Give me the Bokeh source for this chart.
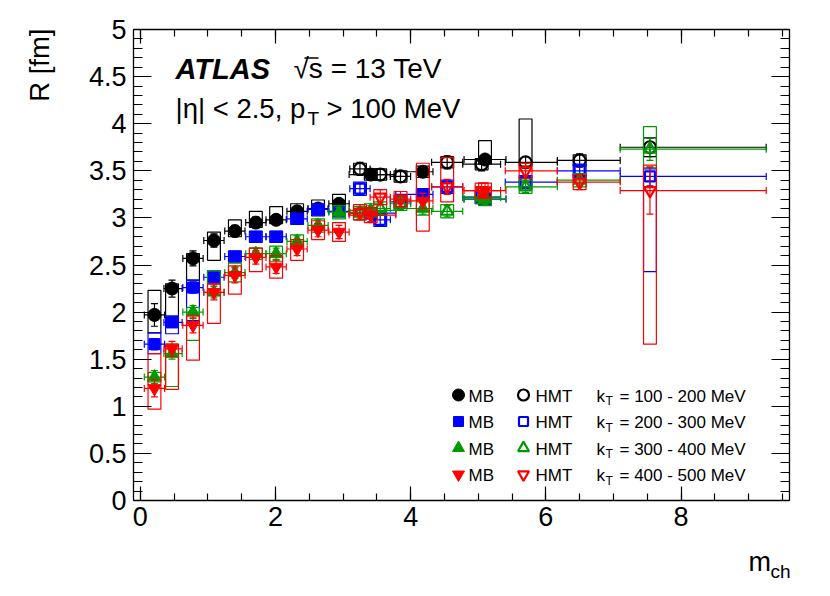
import math
from bokeh.plotting import figure
from bokeh.models import Range1d, LinearAxis, FixedTicker, Label, ColumnDataSource
from bokeh.embed import file_html
from bokeh.resources import INLINE

# ---------------- data ----------------
# MB sample (filled markers)
mch_mb = [0.21, 0.47, 0.78, 1.09, 1.40, 1.71, 2.01, 2.32, 2.63, 2.94, 3.41, 4.18, 5.10]
mch_mb_err_lo = [0.15, 0.12, 0.15, 0.15, 0.15, 0.15, 0.15, 0.15, 0.15, 0.15, 0.32, 0.40, 0.31]
mch_mb_err_hi = [0.15, 0.15, 0.15, 0.15, 0.15, 0.15, 0.15, 0.15, 0.15, 0.15, 0.37, 0.15, 0.31]

# HMT sample (open markers)
mch_hmt = [3.25, 3.55, 3.85, 4.54, 5.05, 5.70, 6.50, 7.54]
mch_hmt_err_lo = [0.15, 0.15, 0.15, 0.23, 0.28, 0.30, 0.33, 0.44]
mch_hmt_err_hi = [0.15, 0.15, 0.15, 0.23, 0.28, 0.47, 0.60, 1.72]

kt_ranges = ["100 - 200 MeV", "200 - 300 MeV", "300 - 400 MeV", "400 - 500 MeV"]

# kT = 100-200 MeV
R_mb_kt1 = [1.97, 2.25, 2.57, 2.76, 2.86, 2.95, 2.98, 3.07, 3.10, 3.15, 3.46, 3.49, 3.62]
stat_mb_kt1 = [0.12, 0.09, 0.08, 0.07, 0.06, 0.06, 0.05, 0.05, 0.05, 0.05, 0.05, 0.05, 0.05]
sysup_mb_kt1 = [0.26, 0.05, 0.05, 0.09, 0.12, 0.12, 0.14, 0.08, 0.09, 0.10, 0.06, 0.06, 0.20]
sysdn_mb_kt1 = [0.19, 0.30, 0.23, 0.21, 0.06, 0.05, 0.04, 0.08, 0.08, 0.08, 0.06, 0.06, 0.05]
R_hmt_kt1 = [3.52, 3.46, 3.44, 3.59, 3.57, 3.59, 3.61, 3.75]
stat_hmt_kt1 = [0.07, 0.06, 0.06, 0.07, 0.07, 0.06, 0.07, 0.10]
sysup_hmt_kt1 = [0.06, 0.06, 0.06, 0.06, 0.06, 0.46, 0.06, 0.10]
sysdn_hmt_kt1 = [0.06, 0.06, 0.06, 0.06, 0.06, 0.04, 0.06, 0.10]

# kT = 200-300 MeV
R_mb_kt2 = [1.66, 1.89, 2.26, 2.37, 2.59, 2.80, 2.80, 2.99, 3.09, 3.07, 3.05, 3.25, 3.20]
stat_mb_kt2 = [0.06, 0.05, 0.06, 0.05, 0.05, 0.05, 0.05, 0.05, 0.05, 0.05, 0.05, 0.05, 0.05]
sysup_mb_kt2 = [0.12, 0.07, 0.08, 0.07, 0.06, 0.06, 0.06, 0.06, 0.06, 0.06, 0.06, 0.06, 0.06]
sysdn_mb_kt2 = [0.10, 0.12, 0.35, 0.07, 0.06, 0.06, 0.06, 0.06, 0.06, 0.06, 0.06, 0.06, 0.06]
R_hmt_kt2 = [3.31, 2.98, 3.17, 3.33, 3.22, 3.38, 3.50, 3.44]
stat_hmt_kt2 = [0.06, 0.06, 0.06, 0.06, 0.06, 0.06, 0.06, 0.10]
sysup_hmt_kt2 = [0.07, 0.07, 0.07, 0.07, 0.07, 0.07, 0.07, 0.08]
sysdn_hmt_kt2 = [0.07, 0.07, 0.07, 0.07, 0.07, 0.07, 0.07, 1.01]

# kT = 300-400 MeV
R_mb_kt3 = [1.31, 1.56, 2.00, 2.21, 2.42, 2.62, 2.62, 2.75, 2.92, 3.06, 3.08, 3.10, 3.20]
stat_mb_kt3 = [0.07, 0.06, 0.07, 0.06, 0.06, 0.06, 0.06, 0.06, 0.06, 0.05, 0.05, 0.06, 0.06]
sysup_mb_kt3 = [0.05, 0.10, 0.05, 0.23, 0.10, 0.06, 0.08, 0.07, 0.07, 0.07, 0.07, 0.07, 0.07]
sysdn_mb_kt3 = [0.05, 0.35, 0.30, 0.02, 0.10, 0.06, 0.08, 0.07, 0.07, 0.07, 0.07, 0.07, 0.07]
R_hmt_kt3 = [3.05, 3.10, 3.15, 3.07, 3.22, 3.33, 3.40, 3.73]
stat_hmt_kt3 = [0.06, 0.06, 0.06, 0.06, 0.06, 0.06, 0.06, 0.12]
sysup_hmt_kt3 = [0.07, 0.07, 0.07, 0.07, 0.07, 0.07, 0.07, 0.24]
sysdn_hmt_kt3 = [0.07, 0.07, 0.07, 0.07, 0.07, 0.07, 0.07, 0.20]

# kT = 400-500 MeV
R_mb_kt4 = [1.19, 1.61, 1.86, 2.21, 2.39, 2.58, 2.48, 2.67, 2.87, 2.85, 3.03, 3.18, 3.29]
stat_mb_kt4 = [0.09, 0.08, 0.08, 0.08, 0.08, 0.07, 0.07, 0.07, 0.07, 0.07, 0.07, 0.08, 0.08]
sysup_mb_kt4 = [0.37, 0.05, 0.10, 0.09, 0.10, 0.10, 0.12, 0.10, 0.10, 0.10, 0.08, 0.40, 0.08]
sysdn_mb_kt4 = [0.22, 0.43, 0.37, 0.33, 0.20, 0.15, 0.12, 0.12, 0.10, 0.10, 0.08, 0.32, 0.08]
R_hmt_kt4 = [3.06, 3.22, 3.20, 3.33, 3.29, 3.50, 3.38, 3.29]
stat_hmt_kt4 = [0.08, 0.08, 0.08, 0.08, 0.08, 0.08, 0.08, 0.25]
sysup_hmt_kt4 = [0.08, 0.08, 0.08, 0.31, 0.08, 0.08, 0.08, 0.27]
sysdn_hmt_kt4 = [0.08, 0.08, 0.08, 0.16, 0.08, 0.08, 0.08, 1.63]

x_ticks = [0, 2, 4, 6, 8]
x_tick_labels = ["0", "2", "4", "6", "8"]
y_ticks = [0, 0.5, 1, 1.5, 2, 2.5, 3, 3.5, 4, 4.5, 5]
y_tick_labels = ["0", "0.5", "1", "1.5", "2", "2.5", "3", "3.5", "4", "4.5", "5"]
X_MIN, X_MAX = -0.1, 9.6
Y_MIN, Y_MAX = 0.0, 5.0

# ---------------- layout / style ----------------
W, H = 822, 588
PL, PR, PT, PB = 133, 788.7, 29, 500          # pixel box of the axes
XS = (PR - PL) / (X_MAX - X_MIN)
YS = (PB - PT) / (Y_MAX - Y_MIN)
XR0, XR1 = X_MIN - PL / XS, X_MAX + (W - PR) / XS
YR0, YR1 = Y_MIN - (H - PB) / YS, Y_MAX + PT / YS

COLORS = ["#000000", "#0000ff", "#009900", "#ff0000"]
MARKERS = ["circle", "square", "triangle", "inverted_triangle"]
MSIZE = {"circle": 13, "square": 11, "triangle": 13, "inverted_triangle": 13}
FONT = "Liberation Sans"
BOX_HW = 0.095

series = [
    (R_mb_kt1, stat_mb_kt1, sysup_mb_kt1, sysdn_mb_kt1, R_hmt_kt1, stat_hmt_kt1, sysup_hmt_kt1, sysdn_hmt_kt1),
    (R_mb_kt2, stat_mb_kt2, sysup_mb_kt2, sysdn_mb_kt2, R_hmt_kt2, stat_hmt_kt2, sysup_hmt_kt2, sysdn_hmt_kt2),
    (R_mb_kt3, stat_mb_kt3, sysup_mb_kt3, sysdn_mb_kt3, R_hmt_kt3, stat_hmt_kt3, sysup_hmt_kt3, sysdn_hmt_kt3),
    (R_mb_kt4, stat_mb_kt4, sysup_mb_kt4, sysdn_mb_kt4, R_hmt_kt4, stat_hmt_kt4, sysup_hmt_kt4, sysdn_hmt_kt4),
]

p = figure(width=W, height=H, x_range=Range1d(XR0, XR1), y_range=Range1d(YR0, YR1),
           output_backend="svg", toolbar_location=None, x_axis_type=None, y_axis_type=None,
           min_border=0)
p.grid.visible = False
p.outline_line_color = None
p.background_fill_color = "white"
p.border_fill_color = "white"

x_minor = [i * 0.5 for i in range(0, 20)]
y_minor = [round(i * 0.1, 2) for i in range(0, 51)]


def make_axis(ticks, minor, labels, major_len, minor_len, show, loc, bounds):
    ax = LinearAxis(fixed_location=loc, bounds=bounds)
    ax.ticker = FixedTicker(ticks=ticks, minor_ticks=minor)
    ax.major_tick_in = major_len
    ax.major_tick_out = 0
    ax.minor_tick_in = minor_len
    ax.minor_tick_out = 0
    ax.axis_line_color = "black"
    ax.axis_line_width = 1.3
    ax.major_tick_line_width = 1.2
    ax.minor_tick_line_width = 1.2
    ax.major_tick_line_color = "black"
    ax.minor_tick_line_color = "black"
    ax.major_label_overrides = {t: l for t, l in zip(ticks, labels)}
    ax.major_label_text_font = FONT
    ax.major_label_text_font_size = "27px"
    ax.major_label_text_color = "black" if show else None
    return ax


bottom_ax = make_axis(x_ticks, x_minor, x_tick_labels, 14, 7, True, Y_MIN, (X_MIN, X_MAX))
bottom_ax.major_label_standoff = 6
p.add_layout(bottom_ax, "below")
left_ax = make_axis(y_ticks, y_minor, y_tick_labels, 18, 9, True, X_MIN, (Y_MIN, Y_MAX))
left_ax.major_label_standoff = 7
p.add_layout(left_ax, "left")
top_ax = make_axis(x_ticks, x_minor, x_tick_labels, 14, 7, False, Y_MAX, (X_MIN, X_MAX))
p.add_layout(top_ax, "above")
right_ax = make_axis(y_ticks, y_minor, y_tick_labels, 18, 9, False, X_MAX, (Y_MIN, Y_MAX))
p.add_layout(right_ax, "right")


def draw(x, xlo, xhi, y, stat, sup, sdn, color, marker, filled):
    src = ColumnDataSource(dict(
        x=x, y=y,
        xl=[a - b for a, b in zip(x, xlo)], xh=[a + b for a, b in zip(x, xhi)],
        yl=[a - b for a, b in zip(y, stat)], yh=[a + b for a, b in zip(y, stat)],
        bl=[a - b for a, b in zip(y, sdn)], bt=[a + b for a, b in zip(y, sup)],
        bx0=[a - BOX_HW for a in x], bx1=[a + BOX_HW for a in x],
    ))
    p.quad(left="bx0", right="bx1", bottom="bl", top="bt", source=src,
           fill_color=None, line_color=color, line_width=1.2)
    p.segment(x0="xl", y0="y", x1="xh", y1="y", source=src, line_color=color, line_width=1.2)
    p.segment(x0="x", y0="yl", x1="x", y1="yh", source=src, line_color=color, line_width=1.2)
    p.scatter(x="xl", y="y", source=src, marker="dash", angle=math.pi / 2, size=7, line_color=color, line_width=1.2)
    p.scatter(x="xh", y="y", source=src, marker="dash", angle=math.pi / 2, size=7, line_color=color, line_width=1.2)
    p.scatter(x="x", y="yl", source=src, marker="dash", size=7, line_color=color, line_width=1.2)
    p.scatter(x="x", y="yh", source=src, marker="dash", size=7, line_color=color, line_width=1.2)
    if filled:
        p.scatter(x="x", y="y", source=src, marker=marker, size=MSIZE[marker],
                  fill_color=color, line_color=color)
    else:
        p.scatter(x="x", y="y", source=src, marker=marker, size=MSIZE[marker] - 1,
                  fill_color=None, line_color=color, line_width=2.2)


for i, s in enumerate(series):
    rmb, smb, umb, dmb, rh, sh, uh, dh = s
    draw(mch_mb, mch_mb_err_lo, mch_mb_err_hi, rmb, smb, umb, dmb, COLORS[i], MARKERS[i], True)
    draw(mch_hmt, mch_hmt_err_lo, mch_hmt_err_hi, rh, sh, uh, dh, COLORS[i], MARKERS[i], False)


# ---------------- texts (pixel positions on the canvas) ----------------
def lab(text, px, py, size, style="normal", align="left", baseline="alphabetic", angle=0.0):
    p.add_layout(Label(x=px, y=H - py, x_units="screen", y_units="screen", text=text,
                       text_font=FONT, text_font_size=size, text_font_style=style,
                       text_align=align, text_baseline=baseline, angle=angle, text_color="black"))


def px2x(px):
    return XR0 + px / XS


def px2y(py):
    return YR1 - py / YS


lab("ATLAS", 175, 68, "29px", style="bold italic")
lab("\u221As = 13 TeV", 293, 68, "28px")
# bar of the square-root sign over "s"
p.line([px2x(304), px2x(318)], [px2y(57.5), px2y(57.5)], line_color="black", line_width=1.4)
lab("|\u03b7| < 2.5, p", 175, 108, "27.5px")
lab("T", 307, 118, "19px")
lab("> 100 MeV", 326, 108, "27.5px")

# axis titles
lab("R [fm]", 39, 28, "27.5px", align="right", baseline="middle", angle=math.pi / 2)
lab("m", 748, 561, "27px")
lab("ch", 770, 571, "19px")

# legend
leg_rows = [394.5, 421, 447.5, 474]
leg_mb_px, leg_hmt_px = 458, 523
for i in range(4):
    r = leg_rows[i]
    p.scatter([px2x(leg_mb_px)], [px2y(r)], marker=MARKERS[i], size=MSIZE[MARKERS[i]] - 1,
              fill_color=COLORS[i], line_color=COLORS[i])
    p.scatter([px2x(leg_hmt_px)], [px2y(r)], marker=MARKERS[i], size=MSIZE[MARKERS[i]] - 2,
              fill_color=None, line_color=COLORS[i], line_width=2.2)
    lab("MB", 468, r + 1, "17px")
    lab("HMT", 535, r + 1, "17px")
    lab("k", 596, r + 1, "17px")
    lab("T", 605, r + 6, "12px")
    lab("= " + kt_ranges[i], 619, r + 1, "17px")

open("out.html", "w").write(file_html(p, INLINE))
